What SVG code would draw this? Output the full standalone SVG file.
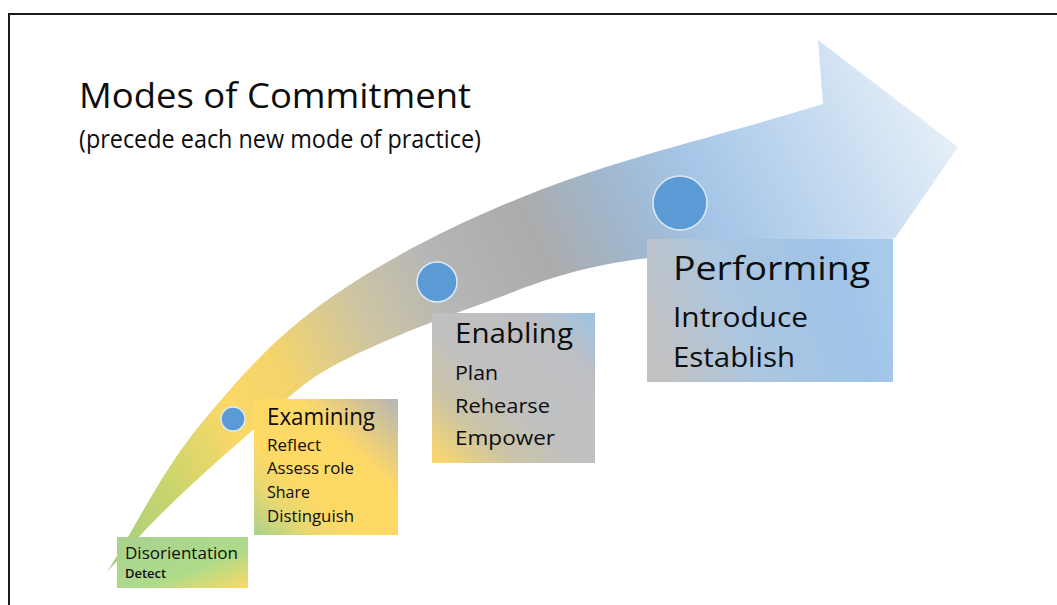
<svg xmlns="http://www.w3.org/2000/svg" width="1057" height="605" viewBox="0 0 1057 605">
<style>
text{font-family:"Open Sans","Noto Sans","Liberation Sans",sans-serif;fill:#0d0d0d}
.dot{fill:#5b9bd5;stroke:#deebf7;stroke-width:1.5}
</style>
<defs>
<linearGradient id="gArrow" gradientUnits="userSpaceOnUse" x1="107" y1="572" x2="958" y2="147">
<stop offset="0" stop-color="#9fcf7e"/>
<stop offset="0.1" stop-color="#cbd56e"/>
<stop offset="0.19" stop-color="#fbd866"/>
<stop offset="0.26" stop-color="#f3d46c"/>
<stop offset="0.36" stop-color="#cdc5a2"/>
<stop offset="0.45" stop-color="#b6b6b6"/>
<stop offset="0.56" stop-color="#ababab"/>
<stop offset="0.65" stop-color="#a0b7ce"/>
<stop offset="0.74" stop-color="#a5c6e7"/>
<stop offset="0.88" stop-color="#c7dcf1"/>
<stop offset="1" stop-color="#e6eff8"/>
</linearGradient>
<linearGradient id="gDis" x1="0" y1="0" x2="1" y2="1">
<stop offset="0" stop-color="#a9d18e"/>
<stop offset="0.6" stop-color="#addb8a"/>
<stop offset="1" stop-color="#fbd866"/>
</linearGradient>
<linearGradient id="gExa" x1="0" y1="1" x2="1" y2="0">
<stop offset="0" stop-color="#a9d18e"/>
<stop offset="0.2" stop-color="#e8d870"/>
<stop offset="0.35" stop-color="#ffd966"/>
<stop offset="0.65" stop-color="#ffd966"/>
<stop offset="1" stop-color="#b5b5b5"/>
</linearGradient>
<linearGradient id="gEna" x1="0" y1="1" x2="1" y2="0">
<stop offset="0" stop-color="#ffd966"/>
<stop offset="0.25" stop-color="#cbc4a6"/>
<stop offset="0.45" stop-color="#c0c0c0"/>
<stop offset="0.78" stop-color="#bdbfc2"/>
<stop offset="1" stop-color="#9dc3e6"/>
</linearGradient>
<linearGradient id="gPer" x1="0" y1="0.6" x2="1" y2="0.4">
<stop offset="0" stop-color="#c2c2c2"/>
<stop offset="0.35" stop-color="#acc6df"/>
<stop offset="0.8" stop-color="#9fc4e8"/>
<stop offset="1" stop-color="#a9cbea"/>
</linearGradient>
</defs>
<rect width="1057" height="605" fill="#fff"/>
<path d="M9,605 V14 H1057" fill="none" stroke="#1a1a1a" stroke-width="2"/>

<g id="title">
<text x="79" y="108" font-size="35" textLength="392" lengthAdjust="spacingAndGlyphs">Modes of Commitment</text>
<text x="79" y="148" font-size="26" textLength="402" lengthAdjust="spacingAndGlyphs">(precede each new mode of practice)</text>
</g>

<g id="connectors">
<path d="M107,572 C138,523 162,471 200,425 C238,379 276,335 333,296 C390,257 458,222 540,190 C622,158 729,133 823,104 L818,40 L958,147 L895,238 L870,243 C787,249 686,251 620,262 C554,273 521,290 473,307 C425,324 370,346 333,366 C296,386 282,405 253,430 C224,455 184,491 160,515 C136,539 125,553 107,572 Z" fill="url(#gArrow)"/>
</g>

<g id="node-disorientation">
<rect x="117" y="537" width="131" height="51" fill="url(#gDis)"/>
<text x="125" y="559" font-size="15.5" textLength="113" lengthAdjust="spacingAndGlyphs">Disorientation</text>
<text x="125" y="578" font-size="12" font-weight="600" textLength="41" lengthAdjust="spacingAndGlyphs">Detect</text>
</g>

<g id="node-examining">
<rect x="254" y="399" width="144" height="136" fill="url(#gExa)"/>
<circle class="dot" cx="233" cy="419" r="12"/>
<text x="267" y="425" font-size="23" textLength="108" lengthAdjust="spacingAndGlyphs">Examining</text>
<text x="267" y="451" font-size="15.5" textLength="54" lengthAdjust="spacingAndGlyphs">Reflect</text>
<text x="267" y="474" font-size="15.5" textLength="87" lengthAdjust="spacingAndGlyphs">Assess role</text>
<text x="267" y="498" font-size="15.5" textLength="43" lengthAdjust="spacingAndGlyphs">Share</text>
<text x="267" y="522" font-size="15.5" textLength="87" lengthAdjust="spacingAndGlyphs">Distinguish</text>
</g>

<g id="node-enabling">
<rect x="432" y="313" width="163" height="150" fill="url(#gEna)"/>
<circle class="dot" cx="437" cy="282" r="20"/>
<text x="455" y="343" font-size="28" textLength="118" lengthAdjust="spacingAndGlyphs">Enabling</text>
<text x="455" y="380" font-size="20" textLength="43" lengthAdjust="spacingAndGlyphs">Plan</text>
<text x="455" y="413" font-size="20" textLength="95" lengthAdjust="spacingAndGlyphs">Rehearse</text>
<text x="455" y="445" font-size="20" textLength="100" lengthAdjust="spacingAndGlyphs">Empower</text>
</g>

<g id="node-performing">
<rect x="647" y="239" width="246" height="143" fill="url(#gPer)"/>
<circle class="dot" cx="680" cy="203" r="27"/>
<text x="673" y="280" font-size="32" textLength="197" lengthAdjust="spacingAndGlyphs">Performing</text>
<text x="673" y="327" font-size="28" textLength="135" lengthAdjust="spacingAndGlyphs">Introduce</text>
<text x="673" y="367" font-size="28" textLength="122" lengthAdjust="spacingAndGlyphs">Establish</text>
</g>
</svg>
